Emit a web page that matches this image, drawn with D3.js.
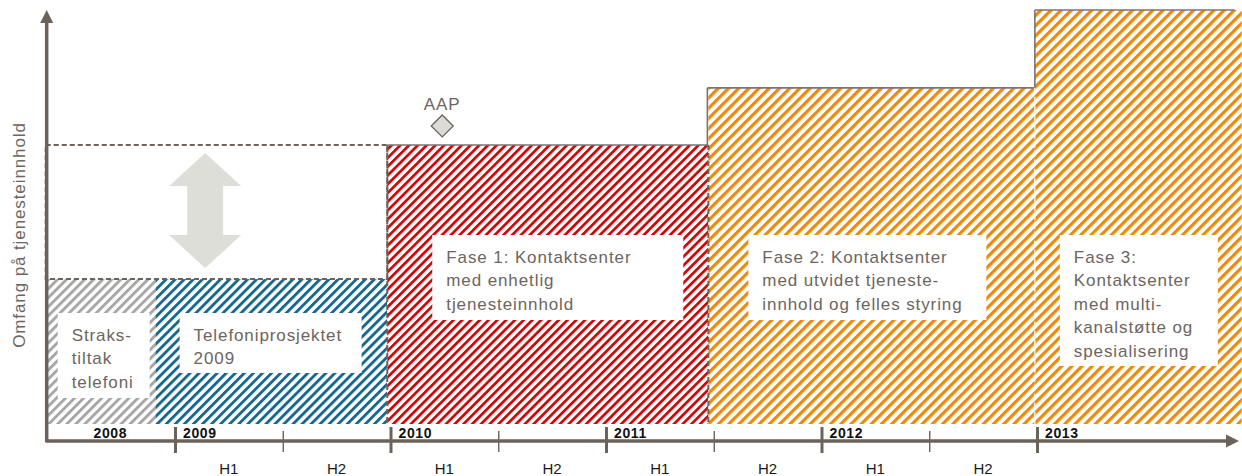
<!DOCTYPE html>
<html>
<head>
<meta charset="utf-8">
<script src="https://cdn.jsdelivr.net/npm/d3@7"></script>
<style>
  body { margin: 0; background: #fff; }
  text { font-family: "Liberation Sans", Arial, sans-serif; }
</style>
</head>
<body>
<script>
// data
const yearTicks = [2009, 2010, 2011, 2012, 2013];
const halfTicks = [2009.5, 2010.5, 2011.5, 2012.5];
const yearLabels = ['2008', '2009', '2010', '2011', '2012', '2013'];
const yearLabelAt = [2008.7, 2009, 2010, 2011, 2012, 2013];
const halfLabels = ['H1', 'H2', 'H1', 'H2', 'H1', 'H2', 'H1', 'H2'];
const halfLabelAt = [2009.25, 2009.75, 2010.25, 2010.75, 2011.25, 2011.75, 2012.25, 2012.75];

const phaseStart = [2008.40, 2008.91, 2009.985, 2011.475, 2012.99];
const phaseEnd = [2008.91, 2009.985, 2011.475, 2012.99, 2013.95];
const phaseLevel = [35, 35, 67.4, 81.2, 100];
const phaseText = [
  ['Straks-', 'tiltak', 'telefoni'],
  ['Telefoniprosjektet', '2009'],
  ['Fase 1: Kontaktsenter', 'med enhetlig', 'tjenesteinnhold'],
  ['Fase 2: Kontaktsenter', 'med utvidet tjeneste-', 'innhold og felles styring'],
  ['Fase 3:', 'Kontaktsenter', 'med multi-', 'kanalstøtte og', 'spesialisering']
];

const scopeYears = [2008.40, 2009.985];
const scopeLevels = [35, 67.4];
const arrowYear = 2009.14;

const milestoneLabel = 'AAP';
const milestoneYear = 2010.24;
const milestoneLevel = 72;

const axisStart = 2008.40;
const yTitle = 'Omfang på tjenesteinnhold';

// layout / styles
const svgWidth = 1242;
const svgHeight = 476;
const axisY = 441;
const axisColor = '#6b625a';
const textColor = '#6d655e';
const phaseFill = ['#a6a6a6', '#17688c', '#cc0a0a', '#ea8a0c', '#ea8a0c'];
const phasePeriod = [6.4, 6.4, 6.2, 7.2, 7.2];
// white text boxes: offset from phase start, top, width, height
const boxLayout = [
  {dx: 12, top: 313, w: 92, h: 85},
  {dx: 24, top: 313, w: 182, h: 60},
  {dx: 45, top: 235, w: 251, h: 85},
  {dx: 40, top: 235, w: 238, h: 85},
  {dx: 25, top: 235, w: 158, h: 131}
];

const xScale = d3.scaleLinear().domain([2009, 2013]).range([175, 1037]);
const yScale = d3.scaleLinear().domain([0, 100]).range([424, 10]);

const svg = d3.select('body')
              .append('svg')
              .attr('width', svgWidth)
              .attr('height', svgHeight);

// hatch patterns
const defs = svg.append('defs');
phaseFill.forEach((c, i) => {
  const p = defs.append('pattern')
                .attr('id', 'hatch' + i)
                .attr('patternUnits', 'userSpaceOnUse')
                .attr('width', phasePeriod[i])
                .attr('height', phasePeriod[i])
                .attr('patternTransform', 'rotate(45)');
  p.append('rect').attr('width', phasePeriod[i]).attr('height', phasePeriod[i]).attr('fill', '#fff');
  p.append('rect').attr('width', phasePeriod[i] * 0.45).attr('height', phasePeriod[i]).attr('fill', c);
});

// hatched phase bars
svg.selectAll('rect.phase')
   .data(phaseStart)
   .enter()
   .append('rect')
   .attr('class', 'phase')
   .attr('x', (d, i) => xScale(d))
   .attr('y', (d, i) => yScale(phaseLevel[i]))
   .attr('width', (d, i) => xScale(phaseEnd[i]) - xScale(d))
   .attr('height', (d, i) => yScale(0) - yScale(phaseLevel[i]))
   .attr('fill', (d, i) => 'url(#hatch' + i + ')');

// outlines
const solid = {stroke: '#7a7574', width: 1.6};
function line(x1, y1, x2, y2, dashed, color, width) {
  svg.append('line')
     .attr('x1', x1).attr('y1', y1).attr('x2', x2).attr('y2', y2)
     .attr('stroke', color || axisColor)
     .attr('stroke-width', width || 2)
     .attr('stroke-dasharray', dashed ? '5,3' : null);
}

// scope box (dashed)
svg.append('rect')
   .attr('x', xScale(scopeYears[0]))
   .attr('y', yScale(scopeLevels[1]))
   .attr('width', xScale(scopeYears[1]) - xScale(scopeYears[0]))
   .attr('height', yScale(scopeLevels[0]) - yScale(scopeLevels[1]))
   .attr('fill', 'none')
   .attr('stroke', axisColor)
   .attr('stroke-width', 2)
   .attr('stroke-dasharray', '5,3');

// fase 1 borders
line(xScale(phaseStart[2]), yScale(phaseLevel[2]), xScale(phaseStart[2]), yScale(0), true);
line(xScale(phaseEnd[2]), yScale(phaseLevel[2]), xScale(phaseEnd[2]), yScale(0), true);
line(xScale(phaseStart[2]), yScale(phaseLevel[2]), xScale(phaseEnd[2]), yScale(phaseLevel[2]), false, solid.stroke, solid.width);
// fase 2 borders
line(xScale(phaseStart[3]) - 1, yScale(phaseLevel[3]), xScale(phaseEnd[3]), yScale(phaseLevel[3]), false, solid.stroke, solid.width);
line(xScale(phaseStart[3]) - 1, yScale(phaseLevel[3]), xScale(phaseStart[3]) - 1, yScale(phaseLevel[2]), false, solid.stroke, solid.width);
// fase 3 borders
line(xScale(phaseStart[4]), yScale(phaseLevel[4]), xScale(phaseEnd[4]) - 7, yScale(phaseLevel[4]), false, solid.stroke, solid.width);
line(xScale(phaseStart[4]), yScale(phaseLevel[4]), xScale(phaseStart[4]), yScale(phaseLevel[3]), false, solid.stroke, solid.width);
svg.append('line')
   .attr('x1', xScale(phaseStart[4])).attr('x2', xScale(phaseStart[4]))
   .attr('y1', yScale(phaseLevel[3])).attr('y2', yScale(0))
   .attr('stroke', '#fff').attr('stroke-width', 1.2).attr('stroke-dasharray', '6,3');

// double arrow in the scope box
const ax = xScale(arrowYear);
const aTop = yScale(scopeLevels[1]) + 8;
const aBot = yScale(scopeLevels[0]) - 11;
const headH = 33, headW = 36, shaftW = 18;
svg.append('polygon')
   .attr('points', [
     [ax, aTop], [ax + headW, aTop + headH], [ax + shaftW, aTop + headH],
     [ax + shaftW, aBot - headH], [ax + headW, aBot - headH], [ax, aBot],
     [ax - headW, aBot - headH], [ax - shaftW, aBot - headH],
     [ax - shaftW, aTop + headH], [ax - headW, aTop + headH]
   ].map(p => p.join(',')).join(' '))
   .attr('fill', '#deded9');

// milestone
const mx = xScale(milestoneYear);
const my = yScale(milestoneLevel);
svg.append('polygon')
   .attr('points', [[mx, my - 11], [mx + 11, my], [mx, my + 11], [mx - 11, my]].map(p => p.join(',')).join(' '))
   .attr('fill', '#dcdbd5')
   .attr('stroke', axisColor)
   .attr('stroke-width', 1.3);
svg.append('text')
   .attr('x', mx)
   .attr('y', my - 16)
   .attr('text-anchor', 'middle')
   .attr('font-size', 17)
   .attr('letter-spacing', 0.9)
   .attr('fill', textColor)
   .text(milestoneLabel);

// text boxes
phaseText.forEach((lines, i) => {
  const b = boxLayout[i];
  const bx = xScale(phaseStart[i]) + b.dx;
  svg.append('rect')
     .attr('x', bx).attr('y', b.top)
     .attr('width', b.w).attr('height', b.h)
     .attr('fill', '#fff');
  const t = svg.append('text')
               .attr('font-size', 17)
               .attr('letter-spacing', 0.9)
               .attr('fill', textColor);
  lines.forEach((s, j) => {
    t.append('tspan')
     .attr('x', bx + 14)
     .attr('y', b.top + 27.5 + j * 23.5)
     .text(s);
  });
});

// axis ticks
const yearAxis = svg.append('g')
                    .attr('transform', 'translate(0,427)')
                    .call(d3.axisBottom(xScale).tickValues(yearTicks).tickSize(26).tickFormat(''));
yearAxis.select('.domain').remove();
yearAxis.selectAll('.tick line').attr('stroke', axisColor).attr('stroke-width', 3);

const halfAxis = svg.append('g')
                    .attr('transform', 'translate(0,431)')
                    .call(d3.axisBottom(xScale).tickValues(halfTicks).tickSize(21).tickFormat(''));
halfAxis.select('.domain').remove();
halfAxis.selectAll('.tick line').attr('stroke', axisColor).attr('stroke-width', 1.4);

// main axes with arrow heads
const x0 = xScale(axisStart) + 1;
line(x0, axisY, 1228, axisY, false, axisColor, 3.5);
line(x0, axisY + 1.5, x0, 22, false, axisColor, 3.5);
svg.append('polygon')
   .attr('points', [[1239, axisY], [1226, axisY - 6.5], [1226, axisY + 6.5]].map(p => p.join(',')).join(' '))
   .attr('fill', axisColor);
svg.append('polygon')
   .attr('points', [[x0, 10], [x0 - 6.5, 23], [x0 + 6.5, 23]].map(p => p.join(',')).join(' '))
   .attr('fill', axisColor);

// year labels
svg.selectAll('text.year')
   .data(yearLabels)
   .enter()
   .append('text')
   .attr('class', 'year')
   .attr('x', (d, i) => i === 0 ? xScale(yearLabelAt[i]) : xScale(yearLabelAt[i]) + 8)
   .attr('y', 438)
   .attr('text-anchor', (d, i) => i === 0 ? 'middle' : 'start')
   .attr('font-size', 14)
   .attr('font-weight', 'bold')
   .attr('letter-spacing', 0.6)
   .attr('fill', '#111')
   .text(d => d);

// half-year labels
svg.selectAll('text.half')
   .data(halfLabels)
   .enter()
   .append('text')
   .attr('class', 'half')
   .attr('x', (d, i) => xScale(halfLabelAt[i]))
   .attr('y', 474)
   .attr('text-anchor', 'middle')
   .attr('font-size', 15)
   .attr('fill', '#1a1a1a')
   .text(d => d);

// y axis title
svg.append('text')
   .attr('transform', 'translate(25,235) rotate(-90)')
   .attr('text-anchor', 'middle')
   .attr('font-size', 17)
   .attr('letter-spacing', 0.9)
   .attr('fill', textColor)
   .text(yTitle);
</script>
</body>
</html>
